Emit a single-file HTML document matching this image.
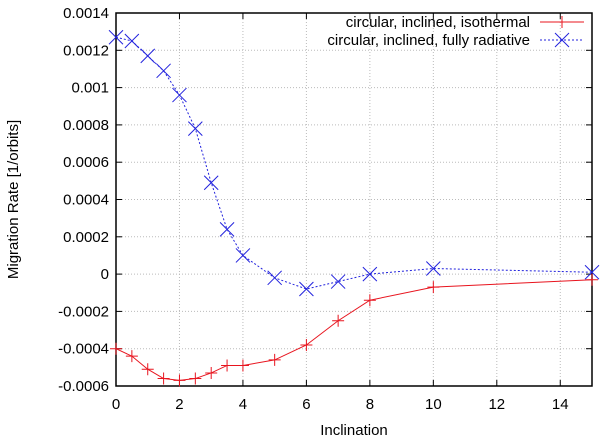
<!DOCTYPE html>
<html><head><meta charset="utf-8"><style>
body{margin:0;background:#fff}
svg{display:block;font-family:"Liberation Sans",sans-serif}
</style></head><body>
<svg id="chart" width="600" height="439" viewBox="0 0 600 439"></svg>
<script>
const xTicks=[0,2,4,6,8,10,12,14];
const yTicks=[-0.0006,-0.0004,-0.0002,0,0.0002,0.0004,0.0006,0.0008,0.001,0.0012,0.0014];
const yTickLabels=["-0.0006","-0.0004","-0.0002","0","0.0002","0.0004","0.0006","0.0008","0.001","0.0012","0.0014"];
const isoX=[0,0.5,1,1.5,2,2.5,3,3.5,4,5,6,7,8,10,15];
const isoY=[-0.0004,-0.00044,-0.00051,-0.00056,-0.00057,-0.00056,-0.00053,-0.00049,-0.00049,-0.00046,-0.00038,-0.00025,-0.00014,-0.00007,-0.00003];
const radX=[0,0.5,1,1.5,2,2.5,3,3.5,4,5,6,7,8,10,15];
const radY=[0.00127,0.00125,0.00117,0.00109,0.00096,0.00078,0.00049,0.00024,0.0001,-0.00002,-0.00008,-0.00004,0,0.00003,0.00001];
const L=116,R=592,T=13,B=386;
const sx=v=>L+(v-0)/(15-0)*(R-L);
const sy=v=>B-(v+0.0006)/(0.0014+0.0006)*(B-T);
const svg=document.getElementById('chart');
const NS='http://www.w3.org/2000/svg';
function mk(tag,attrs,parent){const e=document.createElementNS(NS,tag);for(const k in attrs)e.setAttribute(k,attrs[k]);(parent||svg).appendChild(e);return e;}
xTicks.forEach(v=>{if(v>0){const g=mk('line',{x1:sx(v),x2:sx(v),y1:T,y2:B,stroke:'#bbb','stroke-dasharray':'1,2'});

}
const t=mk('line',{x1:sx(v),x2:sx(v),y1:B,y2:B-6,stroke:'#000'});


const t2=mk('line',{x1:sx(v),x2:sx(v),y1:T,y2:T+6,stroke:'#000'});


const lb=mk('text',{x:sx(v),y:B+23,'text-anchor':'middle','font-size':15});lb.textContent=v;

});
yTicks.forEach((v,i)=>{const y=sy(v);
if(i>0&&i<yTicks.length-1){const g=mk('line',{x1:L,x2:R,y1:y,y2:y,stroke:'#bbb','stroke-dasharray':'1,2'});

}
const t=mk('line',{x1:L,x2:L+6,y1:y,y2:y,stroke:'#000'});


const t2=mk('line',{x1:R,x2:R-6,y1:y,y2:y,stroke:'#000'});


const lb=mk('text',{x:L-7,y:y+5,'text-anchor':'end','font-size':15});lb.textContent=yTickLabels[i];

});
const frame=mk('rect',{x:L,y:T,width:R-L,height:B-T,fill:'none',stroke:'#000','stroke-width':1.5});


function series(xs,ys,color,dash,marker,name){
const pts=xs.map((x,i)=>sx(x)+','+sy(ys[i])).join(' ');
const pl=mk('polyline',{points:pts,fill:'none',stroke:color,'stroke-width':1,'stroke-dasharray':dash});


xs.forEach((x,i)=>{const m=marker(sx(x),sy(ys[i]),color);

});}
function plus(x,y,c){return mk('path',{d:`M${x-6},${y}H${x+6}M${x},${y-6}V${y+6}`,stroke:c,'stroke-width':1});}
function cross(x,y,c){return mk('path',{d:`M${x-7},${y-7}L${x+7},${y+7}M${x-7},${y+7}L${x+7},${y-7}`,stroke:c,'stroke-width':1});}
series(isoX,isoY,'#e8141e','none',plus,'isothermal');
series(radX,radY,'#2222dd','2,2',cross,'radiative');
const lg=mk('g',{});


const t1=mk('text',{x:530,y:27,'text-anchor':'end','font-size':15},lg);t1.textContent='circular, inclined, isothermal';


const t2=mk('text',{x:530,y:45,'text-anchor':'end','font-size':15},lg);t2.textContent='circular, inclined, fully radiative';


const l1=mk('line',{x1:540,x2:584,y1:22,y2:22,stroke:'#e8141e'},lg);


const m1=plus(562,22,'#e8141e');


const l2=mk('line',{x1:540,x2:584,y1:40,y2:40,stroke:'#2222dd','stroke-dasharray':'2,2'},lg);


const m2=cross(562,40,'#2222dd');


const xt=mk('text',{x:(L+R)/2,y:435,'text-anchor':'middle','font-size':15});xt.textContent='Inclination';


const yt=mk('text',{x:0,y:0,'text-anchor':'middle','font-size':15,transform:`translate(18,${(T+B)/2}) rotate(-90)`});yt.textContent='Migration Rate [1/orbits]';


</script>
</body></html>
